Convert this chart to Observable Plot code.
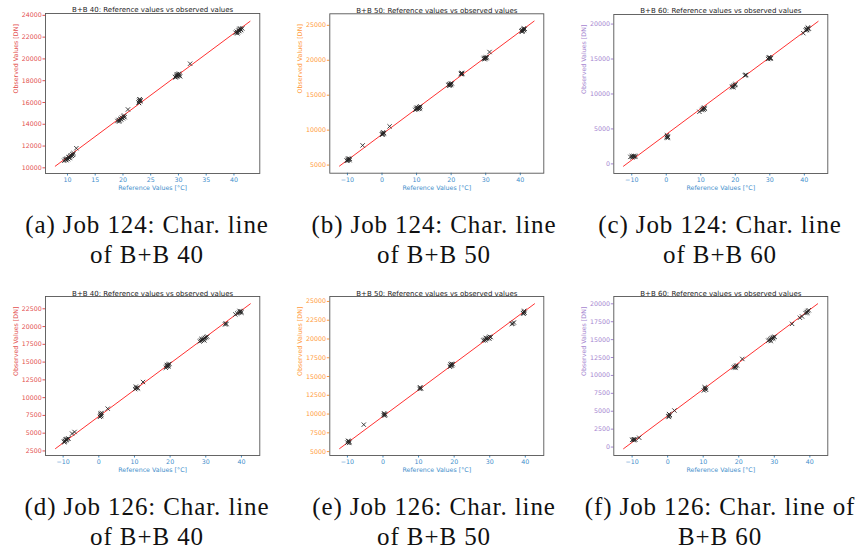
<!DOCTYPE html>
<html><head><meta charset="utf-8">
<script src="https://cdn.jsdelivr.net/npm/d3@7"></script>
<script src="https://cdn.jsdelivr.net/npm/@observablehq/plot@0.6"></script>
<style>
html,body{margin:0;padding:0;background:#fff}
body{width:857px;height:551px;position:relative;overflow:hidden}
.panel{position:absolute}
.cap{position:absolute;width:286px;text-align:center;font-family:"Liberation Serif",serif;font-size:25px;line-height:30px;letter-spacing:0.9px;color:#111;white-space:nowrap}
</style></head><body>
<script>
// ---------- Data ----------
const titles = ["B+B 40: Reference values vs observed values","B+B 50: Reference values vs observed values","B+B 60: Reference values vs observed values","B+B 40: Reference values vs observed values","B+B 50: Reference values vs observed values","B+B 60: Reference values vs observed values"];
const captions1 = ["(a) Job 124: Char. line","(b) Job 124: Char. line","(c) Job 124: Char. line","(d) Job 126: Char. line","(e) Job 126: Char. line","(f) Job 126: Char. line of"];
const captions2 = ["of B+B 40","of B+B 50","of B+B 60","of B+B 40","of B+B 50","B+B 60"];
const xLabel = "Reference Values [°C]";
const yLabel = "Observed Values [DN]";

// (a) Job 124, B+B 40
const a_x = [9.4,9.6,9.8,9.9,10.1,10.2,10.4,10.5,10.6,10.8,10.9,11.0,11.1,10.3,9.7,11.6, 19.0,19.2,19.4,19.5,19.7,19.8,20.0,20.1,20.3,19.3,20.2,20.9, 22.8,22.9,23.0,23.1,22.9,23.0,23.2, 29.4,29.6,29.8,30.0,30.2,29.7,30.1,29.5,30.3,29.9,32.1, 40.3,40.5,40.7,40.8,41.0,41.2,41.3,41.5,40.6,41.1,40.9];
const a_y = [10650,10750,10700,10850,10800,10950,10900,11050,11150,11100,11250,11200,11350,11000,10800,11800, 14300,14400,14350,14500,14450,14600,14550,14700,14650,14250,14800,15360, 16000,16150,16250,16100,15950,16300,16200, 18350,18450,18400,18550,18500,18600,18650,18300,18400,18500,19560, 22400,22500,22450,22600,22550,22700,22650,22800,22350,22800,22700];
const a_lineX = [7.8, 42.9], a_lineY = [10150, 23450];
const a_xticks = [10,15,20,25,30,35,40], a_yticks = [10000,12000,14000,16000,18000,20000,22000,24000];

// (b) Job 124, B+B 50
const b_x = [-10.2,-9.9,-9.6,-9.4,-9.8,-10.0,-9.3,-5.6, 0.0,0.2,0.4,0.6,0.3,0.1,2.2, 9.6,9.9,10.1,10.3,10.5,10.7,10.9,11.1,10.0,10.6,11.0, 19.2,19.4,19.6,19.8,20.0,20.2,19.5,19.9, 22.8,23.0,23.2,23.0,23.1, 29.4,29.6,29.8,30.0,30.2,29.7,30.3,31.1, 40.3,40.5,40.7,40.9,41.1,41.3,40.6,41.0];
const b_y = [5650,5750,5850,5700,5950,5600,5900,7820, 9400,9550,9450,9600,9700,9350,10540, 12900,13050,13000,13200,13150,13300,13250,13400,13200,13050,13100, 16450,16550,16500,16650,16600,16700,16350,16450, 18050,18150,18050,18000,18200, 20200,20350,20300,20400,20300,20150,20450,21180, 24150,24300,24250,24400,24350,24500,24100,24550];
const b_lineX = [-12.3, 44.0], b_lineY = [4860, 25600];
const b_xticks = [-10,0,10,20,30,40], b_yticks = [5000,10000,15000,20000,25000];

// (c) Job 124, B+B 60
const c_x = [-10.4,-10.0,-9.6,-9.2,-8.9,-9.8,-9.4, 0.1,0.3,0.5,0.2,0.4, 9.6,10.3,10.6,10.9,11.2,10.8,11.0, 19.0,19.3,19.6,19.9,20.1,19.4, 23.0,22.8,23.1, 29.5,29.8,30.0,30.2,29.7,30.3, 39.7,40.4,40.6,40.9,41.1,41.3,40.8,41.0];
const c_y = [1000,1100,1050,1000,1100,950,1150, 3800,3950,3850,4100,3700, 7450,7700,7850,7950,7900,7750,8050, 11000,11100,11200,11300,11400,10950, 12700,12650,12750, 15000,15100,15200,15050,15250,15150, 18700,19100,19250,19300,19400,19350,19150,19500];
const c_lineX = [-12.4, 44.0], c_lineY = [-333, 20380];
const c_xticks = [-10,0,10,20,30,40], c_yticks = [0,5000,10000,15000,20000];

// (d) Job 126, B+B 40
const d_x = [-9.8,-9.5,-9.2,-9.0,-8.8,-9.6,-8.5,-9.3,-7.5,-6.8, 0.3,0.5,0.7,0.4,0.6,0.8,2.5, 10.2,10.5,10.8,10.4,11.0,12.4, 18.8,19.0,19.2,19.4,19.6,19.8,19.1,19.5, 28.3,28.6,28.9,29.2,29.5,29.8,30.1,30.4,28.8,29.6, 35.4,35.6,35.8, 38.3,38.8,39.3,39.6,39.9,39.5,40.0];
const d_y = [3800,3900,4000,4100,4200,3750,4250,4150,4940,5170, 7300,7500,7650,7750,7400,7850,8450, 11200,11350,11400,11550,11300,12200, 14200,14350,14450,14550,14650,14750,14600,14400, 17900,18000,18100,18200,18300,18400,18500,18600,18250,18050, 20300,20450,20350, 21700,21850,21950,22050,22150,22200,21950];
const d_lineX = [-12.15, 42.5], d_lineY = [2830, 23200];
const d_xticks = [-10,0,10,20,30,40], d_yticks = [2500,5000,7500,10000,12500,15000,17500,20000,22500];

// (e) Job 126, B+B 50
const e_x = [-10.0,-9.7,-9.4,-9.8,-9.5,-5.4, 0.2,0.4,0.6,0.5,0.3, 10.3,10.5,10.7,10.4, 18.8,19.0,19.2,19.4,19.6,19.3,19.0, 28.2,28.5,28.8,29.1,29.4,29.7,30.0,30.3,29.9,28.9, 36.2,36.8,36.5, 39.4,39.6,39.8,39.5,39.7];
const e_y = [6200,6350,6300,6450,6150,8590, 9850,10000,9950,9800,10100, 13350,13500,13400,13550, 16300,16400,16550,16450,16650,16700,16600, 19800,19900,19850,20000,20100,20200,20300,20250,20050,20150, 22000,22200,22050, 23450,23600,23500,23350,23750];
const e_lineX = [-12.2, 42.6], e_lineY = [5400, 24690];
const e_xticks = [-10,0,10,20,30,40], e_yticks = [5000,7500,10000,12500,15000,17500,20000,22500,25000];

// (f) Job 126, B+B 60
const f_x = [-10.0,-9.7,-9.4,-9.1,-9.5,-8.0, 0.3,0.5,0.6,0.4,0.2,1.9, 10.2,10.5,10.7,10.4,10.8, 18.6,18.9,19.2,19.5,19.1,21.0, 28.3,28.6,28.9,29.2,29.5,29.8,30.1,29.0,29.7, 35.0,37.2,37.8, 38.8,39.1,39.4,39.7,39.3];
const f_y = [1000,1050,1100,1050,950,1300, 4200,4350,4500,4600,4300,5100, 7900,8100,8250,8350,8000, 11100,11200,11300,11400,11050,12300, 14850,14950,15050,15150,15250,15350,15400,14800,15150, 17200,18050,18230, 18700,18850,19000,19100,18750];
const f_lineX = [-12.4, 42.2], f_lineY = [-233, 20000];
const f_xticks = [-10,0,10,20,30,40], f_yticks = [0,2500,5000,7500,10000,12500,15000,17500,20000];

// ---------- Layout & style ----------
const BLUE = "#3f8fcc";
const RED = "#e35050", ORANGE = "#ff9a3c", PURPLE = "#a585d0";

const panels = [
  {x:a_x,y:a_y,lx:a_lineX,ly:a_lineY,xt:a_xticks,yt:a_yticks,xd:[6.04,44.66],yd:[9480,24170],yc:RED,   left:0,  top:0,  m:[45,25.7,13,27],   tdy:6},
  {x:b_x,y:b_y,lx:b_lineX,ly:b_lineY,xt:b_xticks,yt:b_yticks,xd:[-15.1,46.8],yd:[3840,26650],yc:ORANGE,left:285,top:0,  m:[44.3,26.7,13.3,27.3],tdy:6},
  {x:c_x,y:c_y,lx:c_lineX,ly:c_lineY,xt:c_xticks,yt:c_yticks,xd:[-15.2,46.8],yd:[-1375,21370],yc:PURPLE,left:570,top:0, m:[43.3,27.7,14,27],  tdy:6.5},
  {x:d_x,y:d_y,lx:d_lineX,ly:d_lineY,xt:d_xticks,yt:d_yticks,xd:[-14.95,45.15],yd:[1860,24230],yc:RED, left:0,  top:280,m:[45,25.7,16,25],   tdy:5.5},
  {x:e_x,y:e_y,lx:e_lineX,ly:e_lineY,xt:e_xticks,yt:e_yticks,xd:[-14.95,45.2],yd:[4480,25660],yc:ORANGE,left:285,top:280,m:[44.3,26.7,16,25],tdy:5.5},
  {x:f_x,y:f_y,lx:f_lineX,ly:f_lineY,xt:f_xticks,yt:f_yticks,xd:[-15.15,45.05],yd:[-1180,21020],yc:PURPLE,left:570,top:280,m:[43.3,27.7,16,25],tdy:5.5}
];
const capLeft = [4, 291, 577, 4, 291, 577];
const capTop = [210, 210, 210, 492, 492, 492];

panels.forEach((p, i) => {
  const pts = p.x.map((x, j) => ({x, y: p.y[j]}));
  const line = p.lx.map((x, j) => ({x, y: p.ly[j]}));
  const chart = Plot.plot({
    width: 285, height: 200,
    marginLeft: p.m[0], marginRight: p.m[1], marginTop: p.m[2], marginBottom: p.m[3],
    style: {fontFamily: "DejaVu Sans", fontSize: "6.3px", background: "transparent", overflow: "visible"},
    x: {domain: p.xd},
    y: {domain: p.yd},
    marks: [
      Plot.axisX(p.xt, {color: BLUE, tickSize: 2.5, tickPadding: 1.5, label: null}),
      Plot.axisY(p.yt, {color: p.yc, tickSize: 2.5, tickPadding: 1.2, label: null, tickFormat: d3.format("d")}),
      Plot.line(line, {x: "x", y: "y", stroke: "#ff1a1a", strokeWidth: 0.9}),
      Plot.dot(pts, {x: "x", y: "y", symbol: "times", r: 2.1, stroke: "#222", strokeWidth: 1, strokeOpacity: 0.85}),
      Plot.frame({stroke: "#555", strokeWidth: 0.9}),
      Plot.text([titles[i]], {frameAnchor: "top", dy: -p.tdy, fontSize: 7, fill: "#222"}),
      Plot.text([xLabel], {frameAnchor: "bottom", dy: 16.5, fill: BLUE}),
      Plot.text([yLabel], {frameAnchor: "left", dx: -30, rotate: -90, fill: p.yc})
    ]
  });
  const div = document.createElement("div");
  div.className = "panel";
  div.style.left = p.left + "px";
  div.style.top = p.top + "px";
  div.appendChild(chart);
  document.body.appendChild(div);

  const cap = document.createElement("div");
  cap.className = "cap";
  cap.style.left = capLeft[i] + "px";
  cap.style.top = capTop[i] + "px";
  cap.appendChild(document.createTextNode(captions1[i]));
  cap.appendChild(document.createElement("br"));
  cap.appendChild(document.createTextNode(captions2[i]));
  document.body.appendChild(cap);
});
</script>
</body></html>
